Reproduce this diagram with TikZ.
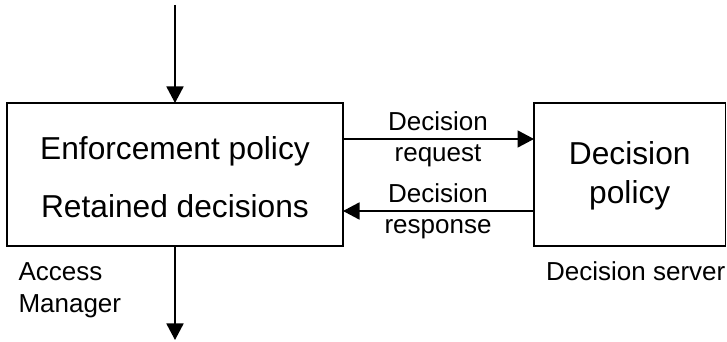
\documentclass[tikz,border=0pt]{standalone}
\usepackage{fontspec}
\setmainfont{Liberation Sans}
\usetikzlibrary{arrows.meta}
\begin{document}
\begin{tikzpicture}[x=1pt,y=1pt,
  box/.style={draw,line width=1.8pt,outer sep=0pt,inner sep=0pt,minimum height=143pt},
  big/.style={inner sep=0pt,anchor=base,font=\fontsize{31.7}{38}\selectfont},
  small/.style={inner sep=0pt,anchor=base,font=\fontsize{26}{31}\selectfont},
  conn/.style={line width=1.8pt,-{Triangle[length=16.5pt,width=17pt]}}]
\useasboundingbox (0,0) rectangle (727,342);
\node[box,minimum width=336pt] (am) at (175,167.5) {};
\node[box,minimum width=191.5pt] (ds) at (629.75,167.5) {};
\coordinate (in) at (175,337);
\coordinate (out) at (175,2);
\node[big] (t1) at (175,182) {Enforcement policy};
\node[big] (t2) at (175,124.7) {Retained decisions};
\node[big] (t3) at (629.75,177) {Decision};
\node[big] (t4) at (629.75,138.7) {policy};
\node[small] (l1) at (438,211.3) {Decision};
\node[small] (l2) at (438,180.3) {request};
\node[small] (l3) at (438,139.3) {Decision};
\node[small] (l4) at (438,108) {response};
\node[small,anchor=base west] (l5) at (18.3,61) {Access};
\node[small,anchor=base west] (l6) at (18.3,29.3) {Manager};
\node[small,anchor=base west] (l7) at (546,61) {Decision server};
\draw[conn] (in) -- (am.north);
\draw[conn] (am.south) -- (out);
\draw[conn] ([yshift=35.5pt]am.east) -- ([yshift=35.5pt]ds.west);
\draw[conn] ([yshift=-36.5pt]ds.west) -- ([yshift=-36.5pt]am.east);
\end{tikzpicture}
\end{document}
